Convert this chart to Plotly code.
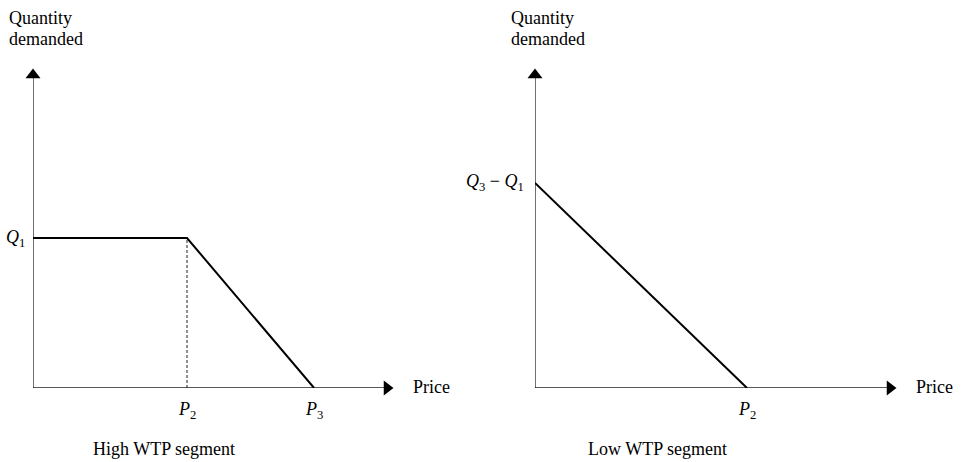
import plotly.graph_objects as go

# ---------------- data ----------------
# High WTP segment (left panel)
hi_price = [0.0, 2.0, 3.65]
hi_qty = [1.0, 1.0, 0.0]
hi_price_ticks = [2.0, 3.65]
hi_price_labels = ["<i>P</i><sub>2</sub>", "<i>P</i><sub>3</sub>"]
hi_qty_ticks = [1.0]
hi_qty_labels = ["<i>Q</i><sub>1</sub>"]
hi_xmax, hi_ymax = 4.597, 2.087

# Low WTP segment (right panel)
lo_price = [0.0, 2.0]
lo_qty = [1.367, 0.0]
lo_price_ticks = [2.0]
lo_price_labels = ["<i>P</i><sub>2</sub>"]
lo_qty_ticks = [1.367]
lo_qty_labels = ["<i>Q</i><sub>3</sub> − <i>Q</i><sub>1</sub>"]
lo_xmax, lo_ymax = 3.349, 2.087

titles = ["High WTP segment", "Low WTP segment"]
y_title_lines = ["Quantity", "demanded"]
x_title = "Price"

W, H = 970, 462
TXT = "Liberation Serif"
AX = "#222222"


def px_x(x):
    return x / W


def px_y(y):
    return 1 - y / H


fig = go.Figure()


def panel(xa, ya, price, qty, pt, pl, qt, ql, xmax, ymax, dashed, qshift):
    fig.add_trace(go.Scatter(x=[0, xmax], y=[0, 0], mode="lines", xaxis=xa, yaxis=ya,
                             line=dict(color=AX, width=1.3), hoverinfo="skip", cliponaxis=False))
    fig.add_trace(go.Scatter(x=[0, 0], y=[0, ymax], mode="lines", xaxis=xa, yaxis=ya,
                             line=dict(color=AX, width=1.3), hoverinfo="skip", cliponaxis=False))
    fig.add_trace(go.Scatter(x=[xmax], y=[0], mode="markers", xaxis=xa, yaxis=ya,
                             marker=dict(symbol="triangle-right", size=13, color="black"),
                             hoverinfo="skip", cliponaxis=False))
    fig.add_trace(go.Scatter(x=[0], y=[ymax], mode="markers", xaxis=xa, yaxis=ya,
                             marker=dict(symbol="triangle-up", size=13, color="black"),
                             hoverinfo="skip", cliponaxis=False))
    if dashed:
        fig.add_trace(go.Scatter(x=[price[1], price[1]], y=[0, qty[1]], mode="lines",
                                 xaxis=xa, yaxis=ya,
                                 line=dict(color=AX, width=1, dash="3px,2px"),
                                 hoverinfo="skip", cliponaxis=False))
    fig.add_trace(go.Scatter(x=price, y=qty, mode="lines", xaxis=xa, yaxis=ya,
                             line=dict(color="black", width=2), hoverinfo="skip",
                             cliponaxis=False))
    for v, t in zip(pt, pl):
        fig.add_annotation(x=v, y=0, xref=xa, yref=ya, text=t, showarrow=False,
                           xanchor="center", yanchor="middle", yshift=-22,
                           font=dict(family=TXT, size=18, color="black"))
    for v, t in zip(qt, ql):
        fig.add_annotation(x=0, y=v, xref=xa, yref=ya, text=t, showarrow=False,
                           xanchor="right", yanchor="middle", xshift=qshift,
                           font=dict(family=TXT, size=18, color="black"))
    fig.add_annotation(x=xmax, y=0, xref=xa, yref=ya, text=x_title, showarrow=False,
                       xanchor="left", yanchor="middle", xshift=24, yshift=1,
                       font=dict(family=TXT, size=18, color="black"))


panel("x", "y", hi_price, hi_qty, hi_price_ticks, hi_price_labels, hi_qty_ticks,
      hi_qty_labels, hi_xmax, hi_ymax, True, -6)
panel("x2", "y2", lo_price, lo_qty, lo_price_ticks, lo_price_labels, lo_qty_ticks,
      lo_qty_labels, lo_xmax, lo_ymax, False, -9)

# y-axis titles
for xpx in (7, 509):
    for ypx, t in zip((18, 39), y_title_lines):
        fig.add_annotation(x=px_x(xpx), y=px_y(ypx), xref="paper", yref="paper", text=t,
                           showarrow=False, xanchor="left", yanchor="middle", align="left",
                           font=dict(family=TXT, size=18, color="black"))
# panel titles
for xpx, t in zip([164, 657], titles):
    fig.add_annotation(x=px_x(xpx), y=px_y(449), xref="paper", yref="paper", text=t,
                       showarrow=False, xanchor="center", yanchor="middle",
                       font=dict(family=TXT, size=18, color="black"))

ydom = [px_y(388), px_y(75)]
ax_common = dict(showgrid=False, zeroline=False, showticklabels=False, showline=False,
                 ticks="", fixedrange=True)
fig.update_layout(
    width=W, height=H,
    margin=dict(l=0, r=0, t=0, b=0),
    paper_bgcolor="white", plot_bgcolor="white",
    showlegend=False,
    xaxis=dict(domain=[px_x(33), px_x(387)], range=[0, hi_xmax], **ax_common),
    yaxis=dict(domain=ydom, range=[0, hi_ymax], **ax_common),
    xaxis2=dict(domain=[px_x(535), px_x(890)], range=[0, lo_xmax], anchor="y2", **ax_common),
    yaxis2=dict(domain=ydom, range=[0, lo_ymax], anchor="x2", **ax_common),
)

fig.write_html("out.html", config={"displayModeBar": False},
               post_script="document.body.style.margin='0';document.body.style.overflow='hidden';")
